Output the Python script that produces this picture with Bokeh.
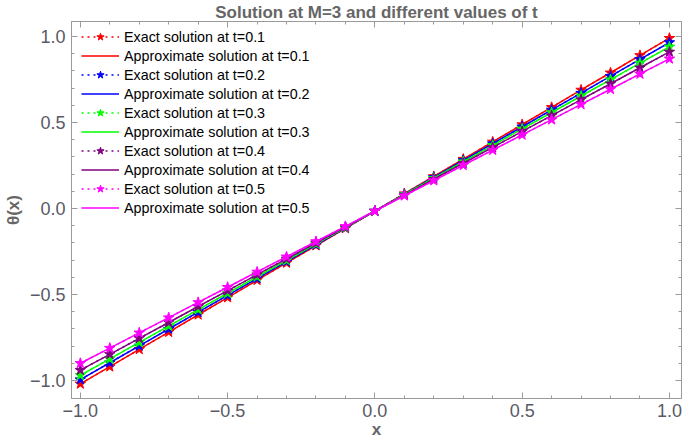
from bokeh.plotting import figure
from bokeh.models import (FixedTicker, LinearAxis, Range1d, Legend, LegendItem,
                          Title, CustomJSTickFormatter)
from bokeh.embed import file_html
from bokeh.resources import INLINE

x_vals = [-1.0, -0.9, -0.8, -0.7, -0.6, -0.5, -0.4, -0.3, -0.2, -0.1, 0.0,
          0.1, 0.2, 0.3, 0.4, 0.5, 0.6, 0.7, 0.8, 0.9, 1.0]

theta_t01 = [-1.020, -0.920, -0.819, -0.719, -0.618, -0.518, -0.417, -0.317, -0.216, -0.116, -0.015,
             0.086, 0.186, 0.287, 0.387, 0.488, 0.588, 0.689, 0.789, 0.890, 0.990]
theta_t02 = [-0.995, -0.897, -0.799, -0.701, -0.603, -0.505, -0.407, -0.309, -0.211, -0.113, -0.015,
             0.083, 0.181, 0.279, 0.377, 0.475, 0.573, 0.671, 0.769, 0.867, 0.965]
theta_t03 = [-0.970, -0.875, -0.779, -0.684, -0.588, -0.493, -0.397, -0.302, -0.206, -0.111, -0.015,
             0.081, 0.176, 0.272, 0.367, 0.463, 0.558, 0.654, 0.749, 0.845, 0.940]
theta_t04 = [-0.940, -0.848, -0.755, -0.663, -0.570, -0.478, -0.385, -0.293, -0.200, -0.108, -0.015,
             0.078, 0.170, 0.263, 0.355, 0.448, 0.540, 0.633, 0.725, 0.818, 0.910]
theta_t05 = [-0.900, -0.812, -0.723, -0.635, -0.546, -0.458, -0.369, -0.281, -0.192, -0.104, -0.015,
             0.074, 0.162, 0.251, 0.339, 0.428, 0.516, 0.605, 0.693, 0.782, 0.870]

t_labels = ["0.1", "0.2", "0.3", "0.4", "0.5"]
series = [theta_t01, theta_t02, theta_t03, theta_t04, theta_t05]
colors = ["#ff0000", "#0000ff", "#00ff00", "#800080", "#ff00ff"]

major_ticks = [-1.0, -0.5, 0.0, 0.5, 1.0]
minor_ticks = [-1.0, -0.9, -0.8, -0.7, -0.6, -0.5, -0.4, -0.3, -0.2, -0.1, 0.0,
               0.1, 0.2, 0.3, 0.4, 0.5, 0.6, 0.7, 0.8, 0.9, 1.0]

FONT = "Liberation Sans"
AXIS_COLOR = "#9a9a9a"
TEXT_COLOR = "#666666"
TICK_TEXT_COLOR = "#5a5a66"

Y_START, Y_END = -1.105, 1.087

p = figure(width=685, height=447, output_backend="svg", toolbar_location=None,
           x_range=Range1d(-1.030, 1.041), y_range=Range1d(Y_START, Y_END),
           min_border_left=68, min_border_right=4, min_border_top=0, min_border_bottom=49)
p.grid.visible = False
p.outline_line_color = AXIS_COLOR
p.background_fill_color = "white"

fmt = CustomJSTickFormatter(code="return (tick < 0 ? '\u2212' : '') + Math.abs(tick).toFixed(1);")
blank_fmt = CustomJSTickFormatter(code="return '';")

def style_axis(ax, labels=True):
    ax.ticker = FixedTicker(ticks=major_ticks, minor_ticks=minor_ticks)
    ax.axis_line_color = AXIS_COLOR
    ax.major_tick_line_color = AXIS_COLOR
    ax.minor_tick_line_color = AXIS_COLOR
    ax.major_tick_in = 6
    ax.major_tick_out = 0
    ax.minor_tick_in = 3
    ax.minor_tick_out = 0
    if labels:
        ax.formatter = fmt
        ax.major_label_text_font = FONT
        ax.major_label_text_font_size = "18px"
        ax.major_label_text_color = TICK_TEXT_COLOR
        ax.axis_label_text_font = FONT
        ax.axis_label_text_font_size = "17px"
        ax.axis_label_text_font_style = "bold"
        ax.axis_label_text_color = TEXT_COLOR
    else:
        ax.formatter = blank_fmt
        ax.major_label_text_font_size = "1px"
        ax.major_label_standoff = 0

style_axis(p.xaxis[0])
style_axis(p.yaxis[0])
p.xaxis[0].axis_label = "x"
p.yaxis[0].axis_label = "θ(x)"
p.xaxis[0].major_label_standoff = 5
p.xaxis[0].axis_label_standoff = 0
p.yaxis[0].major_label_standoff = 6
p.yaxis[0].axis_label_standoff = 4

top_axis = LinearAxis()
style_axis(top_axis, labels=False)
p.add_layout(top_axis, "above")
right_axis = LinearAxis()
style_axis(right_axis, labels=False)
p.add_layout(right_axis, "right")

title = Title(text="Solution at M=3 and different values of t", align="center",
              text_font=FONT, text_font_size="17px", text_font_style="bold",
              text_color=TEXT_COLOR, standoff=0, offset=0)
p.add_layout(title, "above")

items = []
for t, ys, c in zip(t_labels, series, colors):
    ex_line = p.line(x_vals, ys, line_color=c, line_width=1.5, line_dash="dotted")
    ex_pts = p.scatter(x_vals, ys, marker="star", size=11, fill_color=c, line_color=c)
    ap_line = p.line(x_vals, ys, line_color=c, line_width=1.5)
    items.append(LegendItem(label="Exact solution at t=" + t, renderers=[ex_line, ex_pts]))
    items.append(LegendItem(label="Approximate solution at t=" + t, renderers=[ap_line]))

legend = Legend(items=items, location=(10, 181), margin=0, padding=2, spacing=0,
                label_height=19, glyph_height=19, glyph_width=38, label_standoff=5,
                label_text_font=FONT, label_text_font_size="14.3px", label_text_color="black",
                border_line_color=None, background_fill_alpha=0)
p.add_layout(legend, "center")

open("out.html", "w").write(file_html(p, INLINE))
